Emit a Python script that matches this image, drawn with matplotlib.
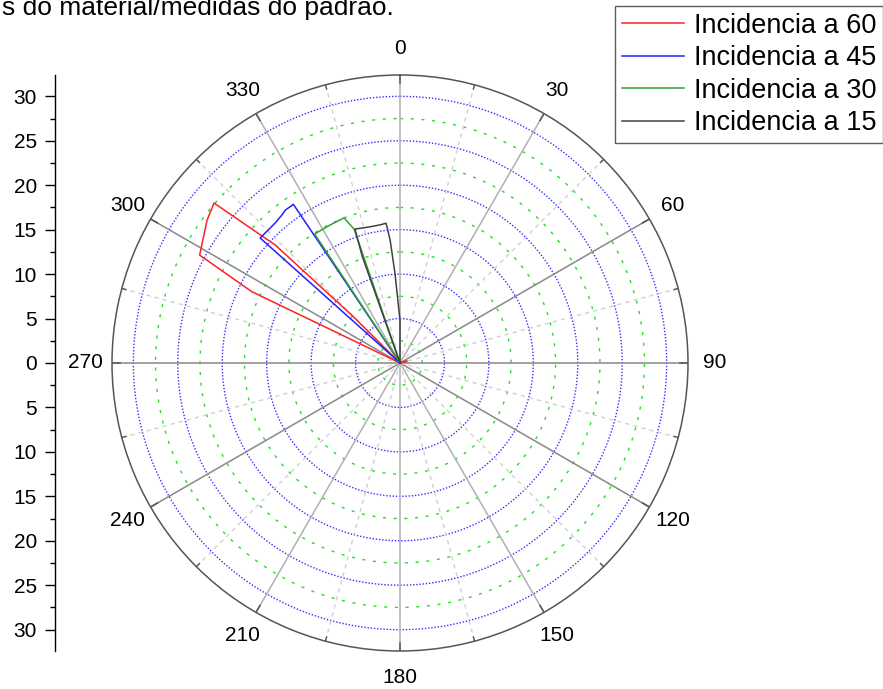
import numpy as np
import matplotlib.pyplot as plt
from matplotlib.ticker import MultipleLocator, FuncFormatter

plt.rcParams['font.family'] = ['Liberation Sans', 'DejaVu Sans']

# dados (angulo em graus, raio)
theta_60 = [295.7, 295.7, 295.7, 298.3, 306.5, 310.7, 313.4, 314.8, 314.8, 75, 75, 75]
r_60 = [0, 10.8, 18.5, 25.6, 27.0, 27.6, 19.3, 7.4, 0, 0, 0.8, 0]

theta_45 = [311.8, 311.8, 318.2, 321.4, 323.1, 326.1, 326.1, 326.1]
r_45 = [0, 21.1, 21.1, 21.3, 21.5, 21.5, 18.5, 0]

theta_30 = [326.5, 326.5, 332.6, 338.9, 341.1, 341.1]
r_30 = [0, 17.4, 17.4, 17.5, 15.9, 0]

theta_15 = [340.5, 340.5, 341.4, 346.8, 351.8, 354.3, 355.4, 356.8, 0, 0]
r_15 = [0, 12.7, 15.9, 15.7, 15.7, 15.8, 13.9, 10.1, 4.8, 0]

series = [
    (theta_60, r_60, 'Incidencia a 60', '#ff2020'),
    (theta_45, r_45, 'Incidencia a 45', '#2020ff'),
    (theta_30, r_30, 'Incidencia a 30', '#30a030'),
    (theta_15, r_15, 'Incidencia a 15', '#404040'),
]

angle_ticks = list(range(0, 360, 30))
radial_ticks = [-30, -25, -20, -15, -10, -5, 0, 5, 10, 15, 20, 25, 30]
rmax = 32.4

W, H = 883, 689
fig = plt.figure(figsize=(W / 100, H / 100), dpi=100)

cx, cy, R = 400, 363, 288
ax = fig.add_axes([(cx - R) / W, (H - cy - R) / H, 2 * R / W, 2 * R / H], projection='polar')
ax.set_theta_zero_location('N')
ax.set_theta_direction(-1)
ax.set_ylim(0, rmax)
ax.grid(False)
ax.set_xticks([])
ax.set_yticks([])
ax.spines['polar'].set_color('#555555')
ax.spines['polar'].set_linewidth(1.1)

# circulos da grade
full = np.linspace(0, 2 * np.pi, 721)
for rr in np.arange(2.5, rmax, 2.5):
    if rr % 5 == 0:
        ax.plot(full, np.full_like(full, rr), color='#3030ff', lw=1.0, ls=(0, (1, 1.3)), zorder=1)
    else:
        ax.plot(full, np.full_like(full, rr), color='#20e020', lw=1.0, ls=(0, (2.2, 5.5)), zorder=1)

# linhas radiais
for a in range(0, 360, 15):
    t = np.deg2rad(a)
    if a % 30:
        ax.plot([t, t], [0, rmax], color='#d0d0d0', lw=1.0, ls=(0, (3, 3)), zorder=1)
        ax.plot([t, t], [rmax - 0.5, rmax], color='#555555', lw=1.0, zorder=3)
    else:
        c = '#b0b0b0' if a in (0, 30, 150, 180, 210, 330) else '#888888'
        ax.plot([t, t], [0, rmax], color=c, lw=1.1, zorder=1)
        ax.plot([t, t], [rmax - 0.9, rmax], color='#555555', lw=1.1, zorder=3)

for a in angle_ticks:
    ax.text(np.deg2rad(a), 35.4, str(a), ha='center', va='center', fontsize=15, clip_on=False)

handles = []
for th, rv, lab, col in series:
    h, = ax.plot(np.deg2rad(th), rv, color=col, lw=1.1, label=lab, zorder=4)
    handles.append(h)

# eixo radial vertical a esquerda
lax = fig.add_axes([55 / W, (H - cy - R) / H, 0.0001, 2 * R / H])
lax.set_ylim(-rmax, rmax)
for s in ['top', 'right', 'bottom']:
    lax.spines[s].set_visible(False)
lax.spines['left'].set_linewidth(1.0)
lax.set_xticks([])
lax.set_yticks(radial_ticks)
lax.yaxis.set_minor_locator(MultipleLocator(2.5))
lax.yaxis.set_major_formatter(FuncFormatter(lambda v, p: f'{abs(v):.0f}'))
lax.tick_params(axis='y', which='major', direction='out', length=7, width=1, pad=6, labelsize=15)
lax.tick_params(axis='y', which='minor', direction='out', length=3.6, width=1)
lax.patch.set_visible(False)

fig.text(2 / W, 1 - 14.5 / H, 's do material/medidas do padrão.', fontsize=19, va='baseline', ha='left')

leg = fig.legend(handles=handles, loc='upper right', bbox_to_anchor=(883 / W, 1 - 6 / H),
                 fontsize=19.5, frameon=True, fancybox=False, edgecolor='#333333',
                 handlelength=2.3, handletextpad=0.35, labelspacing=0.24, borderpad=0.25,
                 borderaxespad=0)
leg.get_frame().set_linewidth(1.0)

fig.savefig('out.png', dpi=100)
